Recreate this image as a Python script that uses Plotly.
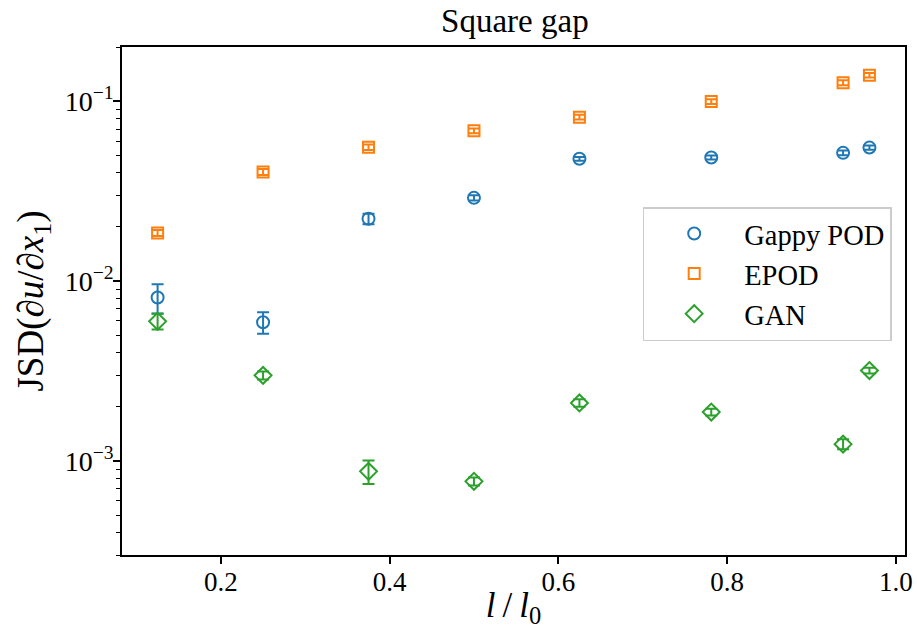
import numpy as np
import plotly.graph_objects as go

# Gap size ratio l / l0
ratio = [0.125, 0.25, 0.375, 0.5, 0.625, 0.78125, 0.9375, 0.96875]

# JSD of du/dx1 for each reconstruction method, with error bars
gappy_pod = [0.0081, 0.0059, 0.0222, 0.0290, 0.0478, 0.0486, 0.0516, 0.0552]
gappy_pod_err = [0.0015, 0.0008, 0.0015, 0.0010, 0.0012, 0.0012, 0.0015, 0.0015]

epod = [0.0185, 0.0404, 0.0555, 0.0684, 0.0815, 0.0995, 0.1267, 0.1394]
epod_err = [0.0007, 0.0015, 0.0020, 0.0020, 0.0025, 0.0030, 0.0040, 0.0040]

gan = [0.00597, 0.00299, 0.000875, 0.00077, 0.00210, 0.00187, 0.00124, 0.00318]
gan_err = [0.0006, 0.00015, 0.00013, 0.00004, 0.00010, 0.00008, 0.00008, 0.00012]

series = [
    ("Gappy POD", gappy_pod, gappy_pod_err, "#1f77b4", "circle-open", 12),
    ("EPOD", epod, epod_err, "#ff7f0e", "square-open", 11),
    ("GAN", gan, gan_err, "#2ca02c", "diamond-open", 13),
]

FONT = "Liberation Serif"
THIN = "\u2009"

fig = go.Figure()
for name, vals, errs, color, symbol, size in series:
    fig.add_trace(go.Scatter(
        x=ratio, y=vals, name=name, mode="markers",
        marker=dict(symbol=symbol, size=size, color=color,
                    line=dict(width=2, color=color)),
        error_y=dict(type="data", array=errs, visible=True,
                     color=color, thickness=2, width=6),
    ))

major_vals = [1e-3, 1e-2, 1e-1]
major_text = ["10<sup>−3</sup>", "10<sup>−2</sup>", "10<sup>−1</sup>"]
minor_vals = [m * 10.0 ** e for e in (-4, -3, -2, -1) for m in range(2, 10)]
minor_vals = [v for v in minor_vals if 3e-4 <= v <= 0.2]

fig.update_layout(
    width=917, height=629,
    margin=dict(l=122, r=12, t=47, b=74),
    paper_bgcolor="white", plot_bgcolor="white",
    font=dict(family=FONT, size=27, color="black"),
    title=dict(text="Square gap", x=0.5615, xanchor="center",
               y=0.968, yanchor="middle", font=dict(size=33)),
    showlegend=True,
    legend=dict(x=0.665, y=0.685, xanchor="left", yanchor="top",
                bgcolor="rgba(255,255,255,0.8)", bordercolor="#cccccc",
                borderwidth=1.5, font=dict(size=28.5), itemwidth=90),
    xaxis=dict(
        range=[0.0828, 1.0109], tickvals=[0.2, 0.4, 0.6, 0.8, 1.0],
        ticktext=["0.2", "0.4", "0.6", "0.8", "1.0"],
        ticks="outside", ticklen=7, tickwidth=1.5, tickcolor="black",
        showline=True, linecolor="black", linewidth=1.6, mirror=True,
        showgrid=False, zeroline=False, automargin=False,
        tickfont=dict(size=27), ticklabelstandoff=-5,
        title=dict(text=f"<i>l</i>{THIN}/{THIN}<i>l</i><sub>0</sub>",
                   standoff=6, font=dict(size=35)),
    ),
    yaxis=dict(
        type="log", range=[np.log10(3e-4), np.log10(0.2)],
        tickvals=major_vals, ticktext=major_text,
        ticks="outside", ticklen=7, tickwidth=1.5, tickcolor="black",
        minor=dict(tickvals=minor_vals, ticks="outside", ticklen=4,
                   tickwidth=1.2, tickcolor="black", showgrid=False),
        showline=True, linecolor="black", linewidth=1.6, mirror=True,
        showgrid=False, zeroline=False, automargin=False,
        tickfont=dict(size=28), ticklabelstandoff=-6,
        title=dict(text="JSD(∂<i>u</i>/∂<i>x</i><sub>1</sub>)", standoff=10,
                   font=dict(size=37)),
    ),
)

fig.write_html("out.html")
